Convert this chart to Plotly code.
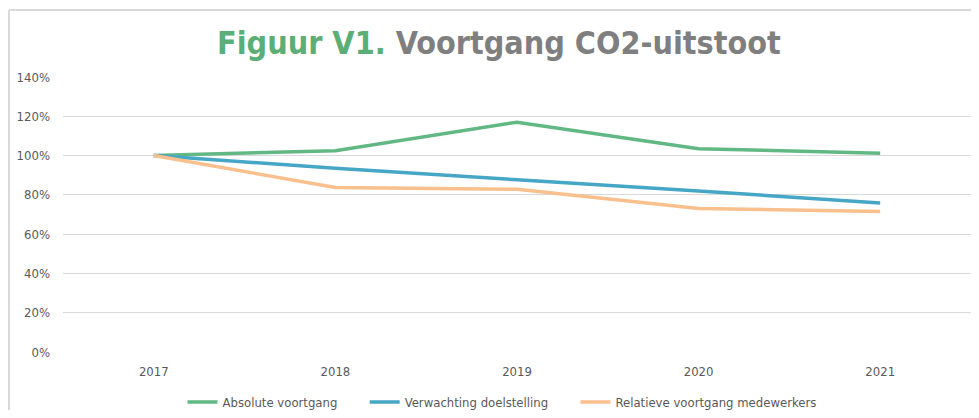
import plotly.graph_objects as go

years = ["2017", "2018", "2019", "2020", "2021"]
absolute = [100, 102.5, 117.0, 103.5, 101.2]
verwachting = [100, 93.6, 87.7, 82.0, 75.8]
relatief = [100, 83.7, 82.8, 73.1, 71.5]

series_names = ["Absolute voortgang", "Verwachting doelstelling", "Relatieve voortgang medewerkers"]
series_values = [absolute, verwachting, relatief]
series_colors = ["#62B884", "#45A6C6", "#F9BF8C"]
legend_pad = [6, 6, 0]

y_ticks = [0, 20, 40, 60, 80, 100, 120, 140]
y_labels = [f"{v}%" for v in y_ticks]

fig = go.Figure()
for name, vals, col, pad in zip(series_names, series_values, series_colors, legend_pad):
    fig.add_trace(go.Scatter(x=years, y=vals, mode="lines", name=name + "&nbsp;" * pad,
                             line=dict(color=col, width=3.5)))

# page body has an 8px margin; figure sized to fit the 979x418 window without scrollbars
W, H = 963, 402
L, R, T, B = 55, 0, 69, 58
pw, ph = W - L - R, H - T - B

tick_font = dict(family="Liberation Sans Narrow, DejaVu Sans Condensed, sans-serif", size=13, color="#595959")

fig.update_layout(
    width=W, height=H,
    margin=dict(l=L, r=R, t=T, b=B, autoexpand=False),
    paper_bgcolor="white", plot_bgcolor="white",
    showlegend=True,
    legend=dict(orientation="h", x=(494 - L) / pw, xanchor="center", y=(344 - 394) / ph, yanchor="middle",
                font=tick_font, traceorder="normal", itemwidth=30),
    xaxis=dict(type="category", range=[-0.5, 4.5], showgrid=False, zeroline=False,
               showline=False, ticks="", tickfont=tick_font, ticklabelstandoff=10, automargin=False),
    yaxis=dict(range=[0, 140], tickvals=y_ticks, ticktext=y_labels, showgrid=True,
               gridcolor="#D9D9D9", gridwidth=1, zeroline=False, showline=False,
               tickfont=tick_font, ticks="", ticklabelstandoff=12, automargin=False),
    annotations=[dict(
        text="<b><span style='color:#5BAE76'>Figuur V1.</span> <span style='color:#7F7F7F'>Voortgang CO2-uitstoot</span></b>",
        xref="paper", yref="paper", x=(491 - L) / pw, y=1 + (T - 35) / ph,
        xanchor="center", yanchor="middle", showarrow=False,
        font=dict(family="DejaVu Sans Condensed, DejaVu Sans, sans-serif", size=32))],
    shapes=[
        dict(type="line", xref="paper", yref="paper",
             x0=(1 - L) / pw, x1=(1 - L) / pw, y0=(344 - 430) / ph, y1=1 + (T - 2) / ph,
             line=dict(color="#D9D9D9", width=2)),
        dict(type="line", xref="paper", yref="paper",
             x0=(1 - L) / pw, x1=(W - L) / pw, y0=1 + (T - 2) / ph, y1=1 + (T - 2) / ph,
             line=dict(color="#D9D9D9", width=2)),
    ],
)

fig.write_html("out.html")
